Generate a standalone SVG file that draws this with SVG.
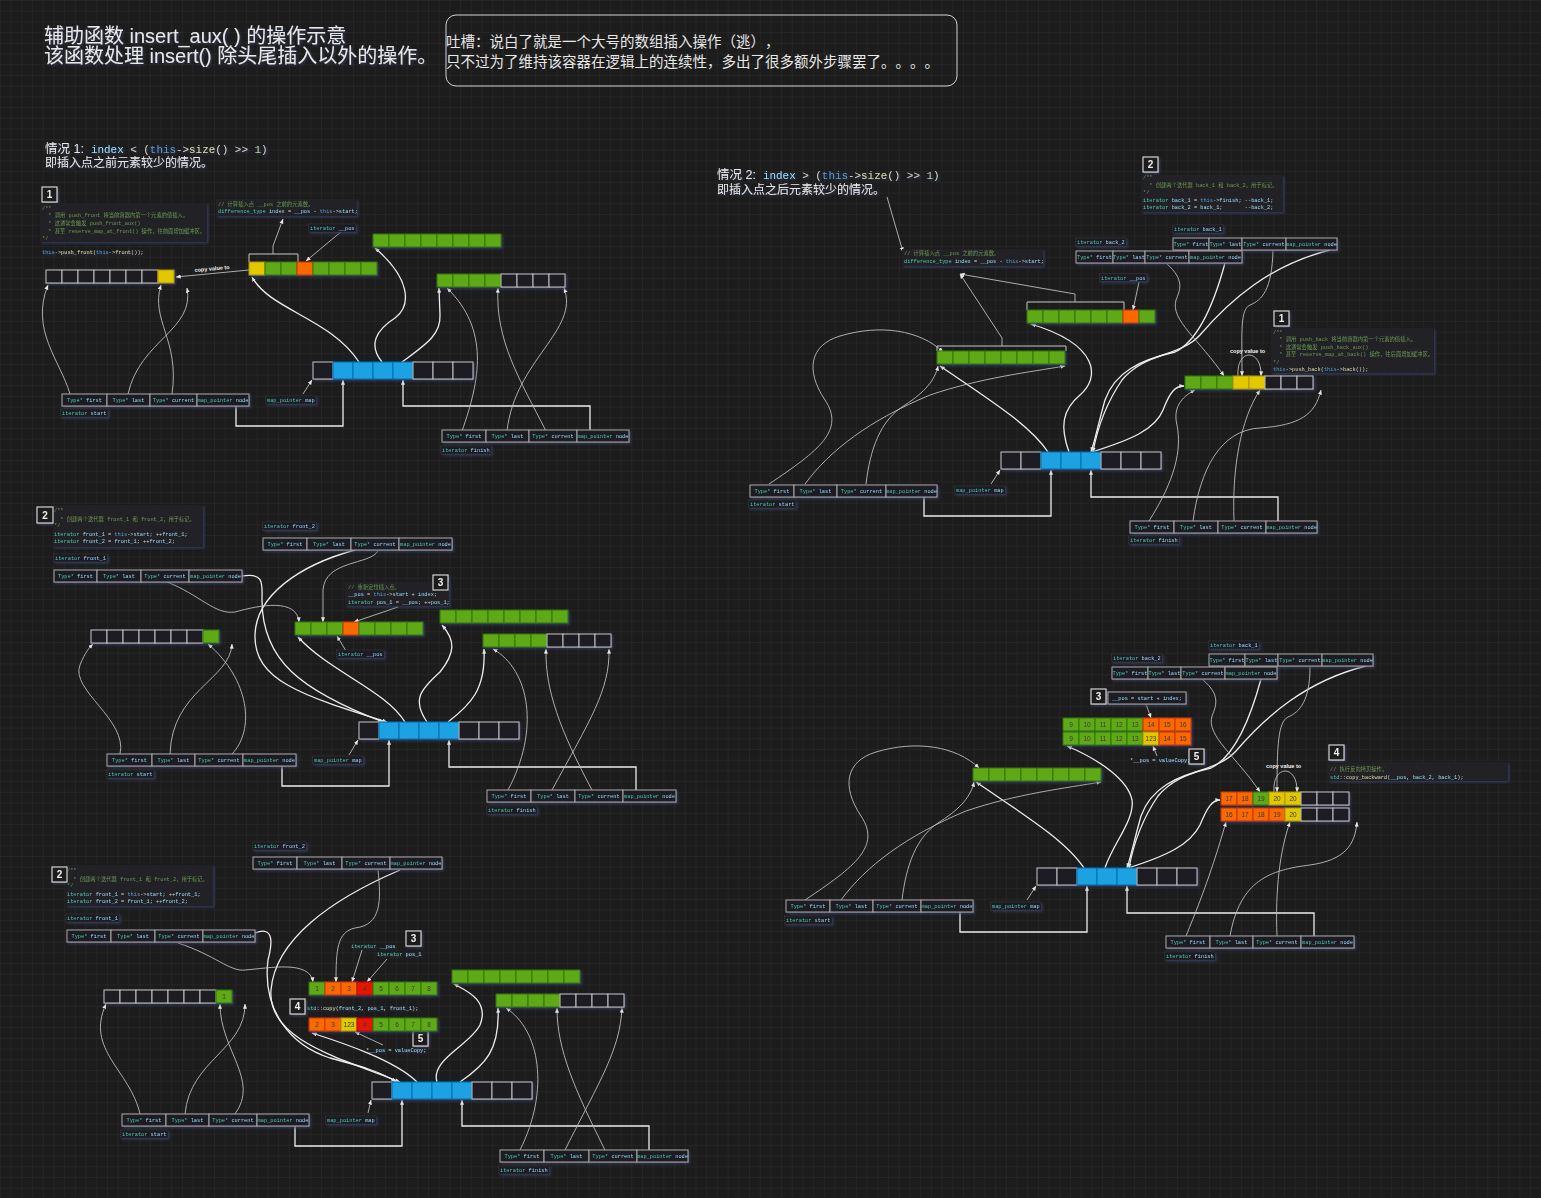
<svg xmlns="http://www.w3.org/2000/svg" width="1541" height="1198" viewBox="0 0 1541 1198">
<defs>
<pattern id="grid" width="10.7" height="10.7" patternUnits="userSpaceOnUse">
<path d="M10.7 0H0V10.7" fill="none" stroke="#2f2f2f" stroke-width="0.8"/>
</pattern>
<filter id="sh" x="-20%" y="-40%" width="140%" height="180%">
<feDropShadow dx="1.5" dy="1.5" stdDeviation="1.3" flood-color="#34416a" flood-opacity="0.75"/>
</filter>
<marker id="ah" viewBox="0 0 6 6" refX="5.6" refY="3" markerWidth="5" markerHeight="5" markerUnits="userSpaceOnUse" orient="auto">
<path d="M0,0.6L6,3L0,5.4z" fill="#e6e6e6"/>
</marker>
<style>
text{text-spacing-trim:space-all}
.g{fill:#60a917;stroke:#2d7600}
.o{fill:#fa6800;stroke:#c73500}
.y{fill:#e3c800;stroke:#a89400}
.b{fill:#1ba1e2;stroke:#006eaf}
.r{fill:#e51400;stroke:#b20000}
.d{fill:#1c1c24;stroke:#c4c4c4}
.f{fill:#1c1c22;stroke:#a9a9a9;stroke-width:1}
.num{font-family:"Liberation Sans",sans-serif;font-size:6.5px;fill:#3a3a3a;text-anchor:middle}
.ft{font-family:"Liberation Mono",monospace;font-size:5.3px;text-anchor:middle;fill:#4ec9b0}
.il{font-family:"Liberation Mono",monospace;font-size:5.3px;fill:#4ec9b0}
.lb{fill:#1c1c22;stroke:#474747;stroke-width:0.7;stroke-dasharray:1 1}
.v{fill:#9cdcfe}
.ty{fill:#4ec9b0}
.k{fill:#569cd6}
.fn{fill:#dcdcaa}
.w{fill:#d4d4d4}
.nm{fill:#b5cea8}
.cm{font-family:"Liberation Mono","Noto Sans CJK SC",monospace;font-size:5.3px;fill:#6a9955}
.cd{font-family:"Liberation Mono","Noto Sans CJK SC",monospace;font-size:5.3px;fill:#d4d4d4}
.cb{fill:#232325}
.bd rect{fill:#1e1e1e;stroke:#d0d0d0;stroke-width:1.2}
.bd text{font-family:"Liberation Sans",sans-serif;font-weight:bold;font-size:10px;fill:#f0f0f0;text-anchor:middle}
.ln{fill:none;stroke:#bcbcbc;stroke-width:0.9;marker-end:url(#ah)}
.lw{fill:none;stroke:#ededed;stroke-width:1.3;marker-end:url(#ah)}
.bk{fill:none;stroke:#c8c8c8;stroke-width:1}
.cv{font-family:"Liberation Sans",sans-serif;font-weight:bold;font-size:5.5px;fill:#f2f2f2}
.ttl{font-family:"Liberation Sans","Noto Sans CJK SC",sans-serif;fill:#e8e8e8}
.mono{font-family:"Liberation Mono",monospace}
</style>
</defs>

<rect width="1541" height="1198" fill="#1c1c1c"/>
<rect width="1541" height="1198" fill="url(#grid)"/>

<!-- header -->
<g id="header" filter="url(#sh)">
<text class="ttl" x="44" y="43" font-size="20">辅助函数 insert_aux( ) 的操作示意</text>
<text class="ttl" x="44" y="63" font-size="20">该函数处理 insert() 除头尾插入以外的操作。</text>
</g>
<g id="note">
<rect x="446" y="15" width="511" height="71" rx="10" fill="none" stroke="#d4d4d4" stroke-width="1"/>
<text class="ttl" x="446" y="47" font-size="14.5">吐槽：说白了就是一个大号的数组插入操作（逃），</text>
<text class="ttl" x="446" y="67" font-size="14.5">只不过为了维持该容器在逻辑上的连续性，多出了很多额外步骤罢了。。。。</text>
</g>

<!-- ================= case 1 titles ================= -->
<g id="c1-title" filter="url(#sh)">
<text class="ttl" x="45" y="152.5" font-size="12.5">情况 1: <tspan class="mono v" x="91" font-size="10.9">index</tspan><tspan class="mono w" font-size="10.9"> &lt; (</tspan><tspan class="mono k" font-size="10.9">this</tspan><tspan class="mono w" font-size="10.9">-&gt;</tspan><tspan class="mono fn" font-size="10.9">size</tspan><tspan class="mono w" font-size="10.9">() &gt;&gt; </tspan><tspan class="mono nm" font-size="10.9">1</tspan><tspan class="mono w" font-size="10.9">)</tspan></text>
<text class="ttl" x="45" y="167" font-size="12">即插入点之前元素较少的情况。</text>
</g>

<!-- ================= case 2 titles ================= -->
<g id="c2-title" filter="url(#sh)">
<text class="ttl" x="717" y="179" font-size="12.5">情况 2: <tspan class="mono v" x="763" font-size="10.9">index</tspan><tspan class="mono w" font-size="10.9"> &gt; (</tspan><tspan class="mono k" font-size="10.9">this</tspan><tspan class="mono w" font-size="10.9">-&gt;</tspan><tspan class="mono fn" font-size="10.9">size</tspan><tspan class="mono w" font-size="10.9">() &gt;&gt; </tspan><tspan class="mono nm" font-size="10.9">1</tspan><tspan class="mono w" font-size="10.9">)</tspan></text>
<text class="ttl" x="717" y="193.5" font-size="12">即插入点之后元素较少的情况。</text>
</g>

<!-- ================= connectors ================= -->
<g id="connectors">
<!-- case 1 top -->
<path class="lw" d="M236,406 V426 H343 V380"/>
<path class="lw" d="M590,430 V406 H403 V380"/>
<path class="ln" d="M303,394 L312,380"/>
<path class="lw" d="M359,362 C330,318 270,310 252,277"/>
<path class="lw" d="M382,362 C368,345 376,330 395,318 C412,305 410,278 375,248"/>
<path class="lw" d="M402,362 C425,345 441,335 440,315 L439,288"/>
<path class="ln" d="M70,394 C60,360 30,330 48,285"/>
<path class="ln" d="M128,394 C140,340 195,330 187,288"/>
<path class="ln" d="M172,394 C180,340 150,320 161,285"/>
<path class="ln" d="M462,431 C480,380 490,330 447,288"/>
<path class="ln" d="M507,431 C515,360 580,330 564,288"/>
<path class="ln" d="M546,431 C520,380 495,340 498,288"/>
<path class="ln" d="M249,270 L176,277"/>
<path class="ln" d="M342,231 L306,261"/>
<path class="bk" d="M249,262 V254 H298 V262"/>
<path class="ln" d="M273,254 V246 L283,219"/>

<!-- case 1 middle -->
<path class="lw" d="M282,766 V786 H389 V740"/>
<path class="lw" d="M636,790 V767 H449 V740"/>
<path class="ln" d="M349,755 L358,740"/>
<path class="lw" d="M405,722 C385,690 330,672 298,637"/>
<path class="lw" d="M427,722 C412,700 420,690 440,672 C456,652 455,640 442,625"/>
<path class="lw" d="M448,722 C470,705 486,690 484,649"/>
<path class="lw" d="M242,576 C265,572 262,585 262,600 C262,660 300,690 383,722"/>
<path class="lw" d="M355,550 C300,565 256,595 255,635 C254,680 300,695 387,722"/>
<path class="ln" d="M167,582 C200,595 215,615 235,612 C260,605 297,598 299,622"/>
<path class="ln" d="M378,551 C370,565 325,560 323,590 L323,622"/>
<path class="ln" d="M398,607 L354,622"/>
<path class="ln" d="M346,651 L337,636"/>
<path class="ln" d="M120,754 C128,720 70,690 80,665 C85,652 90,647 93,644"/>
<path class="ln" d="M170,754 C172,690 230,680 232,644"/>
<path class="ln" d="M232,754 C255,730 250,680 208,644"/>
<path class="ln" d="M508,790 C540,730 530,670 493,649"/>
<path class="ln" d="M552,790 C590,720 610,690 609,649"/>
<path class="ln" d="M592,790 C560,730 545,690 546,649"/>

<!-- case 1 bottom -->
<path class="lw" d="M295,1126 V1146 H402 V1100"/>
<path class="lw" d="M649,1150 V1126 H462 V1100"/>
<path class="ln" d="M368,1113 L371,1100"/>
<path class="lw" d="M417,1082 C395,1060 340,1042 312,1033"/>
<path class="lw" d="M437,1082 C430,1060 470,1045 480,1025 C490,1000 465,990 454,984"/>
<path class="lw" d="M460,1082 C485,1065 500,1050 498,1008"/>
<path class="lw" d="M255,933 C275,925 272,945 268,960 C262,1010 290,1045 330,1058 C360,1066 382,1072 396,1082"/>
<path class="lw" d="M400,870 C330,900 275,940 271,990 C267,1040 340,1058 400,1082"/>
<path class="ln" d="M178,943 C215,955 230,972 245,970 C270,968 310,960 313,982"/>
<path class="ln" d="M378,870 C381,900 382,925 355,928 C337,932 336,950 336,982"/>
<path class="ln" d="M362,950 L352,982"/>
<path class="ln" d="M387,959 L367,982"/>
<path class="ln" d="M383,1045 L355,1032"/>
<path class="ln" d="M140,1114 C130,1070 85,1050 106,1004"/>
<path class="ln" d="M185,1114 C190,1060 245,1050 245,1004"/>
<path class="ln" d="M235,1114 C260,1080 220,1050 220,1004"/>
<path class="ln" d="M520,1150 C550,1090 540,1030 506,1008"/>
<path class="ln" d="M565,1150 C600,1080 620,1050 622,1008"/>
<path class="ln" d="M605,1150 C575,1090 557,1050 557,1008"/>

<!-- case 2 top -->
<path class="lw" d="M924,496 V516 H1051 V470"/>
<path class="lw" d="M1278,521 V497 H1091 V470"/>
<path class="ln" d="M991,484 L1000,470"/>
<path class="lw" d="M1048,452 C1030,425 990,400 940,366"/>
<path class="lw" d="M1069,452 C1060,427 1062,410 1080,395 C1100,378 1100,345 1031,324"/>
<path class="lw" d="M1092,452 C1130,440 1155,430 1163,410 C1170,392 1175,386 1184,386"/>
<path class="lw" d="M1330,250 C1270,265 1230,300 1200,335 C1180,357 1145,352 1122,380 C1105,405 1097,430 1093,452"/>
<path class="lw" d="M1225,263 C1215,300 1200,340 1175,352 C1140,360 1115,372 1105,400 C1098,425 1095,440 1091,452"/>
<path class="ln" d="M1273,250 C1272,290 1262,300 1250,305 C1240,310 1242,330 1242,376"/>
<path class="ln" d="M1167,264 C1185,280 1180,290 1176,300 C1170,320 1200,340 1224,376"/>
<path class="ln" d="M1238,376 C1236,348 1262,348 1261,376"/>
<path class="ln" d="M769,484 C820,450 845,430 825,400 C805,370 810,345 840,336 C880,324 920,330 943,352"/>
<path class="ln" d="M805,484 C830,450 870,420 930,395 C980,378 1030,372 1065,366"/>
<path class="ln" d="M866,484 C870,450 880,420 905,405 C925,392 935,380 938,366"/>
<path class="ln" d="M1149,521 C1175,480 1182,450 1177,425 C1172,405 1185,395 1195,390"/>
<path class="ln" d="M1193,521 C1200,470 1220,430 1260,428 C1300,425 1315,415 1321,390"/>
<path class="ln" d="M1234,521 C1232,470 1240,420 1260,390"/>
<path class="ln" d="M887,197 L903,252"/>
<path class="ln" d="M1139,282 L1133,310"/>
<path class="bk" d="M1027,310 V302 H1124 V310"/>
<path class="bk" d="M937,351 V346 H1066 V351"/>
<path class="ln" d="M1075,302 V294 L960,274"/>
<path class="ln" d="M1002,346 V338 L960,274"/>

<!-- case 2 bottom -->
<path class="lw" d="M960,912 V932 H1087 V886"/>
<path class="lw" d="M1314,936 V913 H1127 V886"/>
<path class="ln" d="M1027,900 L1036,886"/>
<path class="lw" d="M1084,868 C1066,841 1026,816 976,782"/>
<path class="lw" d="M1105,868 C1112,845 1135,820 1132,800 C1128,780 1100,760 1067,746"/>
<path class="lw" d="M1128,868 C1166,856 1190,845 1200,825 C1207,808 1212,800 1220,800"/>
<path class="lw" d="M1366,666 C1306,681 1266,716 1236,751 C1216,773 1181,768 1158,796 C1141,821 1133,846 1129,868"/>
<path class="lw" d="M1261,679 C1251,716 1236,756 1211,768 C1176,776 1151,788 1141,816 C1134,841 1131,856 1127,868"/>
<path class="ln" d="M1203,680 C1221,695 1216,706 1212,716 C1206,736 1236,756 1260,792"/>
<path class="ln" d="M1310,667 C1310,700 1300,712 1288,717 C1278,722 1277,746 1277,792"/>
<path class="ln" d="M1274,792 C1272,764 1298,764 1297,792"/>
<path class="ln" d="M805,900 C856,866 881,846 861,816 C841,786 846,761 876,752 C916,740 956,746 979,768"/>
<path class="ln" d="M841,900 C866,866 906,836 966,811 C1016,794 1066,788 1101,782"/>
<path class="ln" d="M902,900 C906,866 916,836 941,821 C961,808 971,796 974,782"/>
<path class="ln" d="M1186,936 C1205,890 1215,860 1226,822"/>
<path class="ln" d="M1230,936 C1240,880 1270,870 1310,865 C1345,860 1355,845 1357,822"/>
<path class="ln" d="M1277,936 C1275,890 1280,850 1290,822"/>
<path class="ln" d="M1146,704 L1151,718"/>
<path class="ln" d="M1157,756 L1153,746"/>
</g>

<!-- ================= case 1 top nodes ================= -->
<g id="c1t-code1" filter="url(#sh)">
<g class="bd"><rect x="42" y="187" width="15" height="15"/><text x="49.5" y="198.2">1</text></g>
<rect class="cb" x="40" y="203" width="167" height="39"/>
<text class="cm" x="42" y="209.5">/**</text>
<text class="cm" x="42" y="216.5" xml:space="preserve">  * 调用 push_front 将当前容器内第一个元素的值插入。</text>
<text class="cm" x="42" y="224.5" xml:space="preserve">  * 这通常会触发 push_front_aux()</text>
<text class="cm" x="42" y="232.5" xml:space="preserve">  * 甚至 reserve_map_at_front() 操作，往前面增加缓冲区。</text>
<text class="cm" x="42" y="239.5">*/</text>
<text class="cd" x="42" y="253.5" font-size="6.6"><tspan class="k">this</tspan>-&gt;<tspan class="fn">push_front</tspan>(<tspan class="k">this</tspan>-&gt;<tspan class="fn">front</tspan>());</text>
</g>
<g id="c1t-index" filter="url(#sh)">
<rect class="cb" x="216" y="199" width="141" height="17"/>
<text class="cm" x="218" y="206">// 计算插入点 __pos 之前的元素数。</text>
<text class="cd" x="218" y="213"><tspan class="ty">difference_type</tspan> <tspan class="v">index</tspan> = <tspan class="v">__pos</tspan> - <tspan class="k">this</tspan>-&gt;<tspan class="v">start</tspan>;</text>
</g>
<g id="c1t-pos" filter="url(#sh)">
<rect class="lb" x="308.5" y="224" width="47.5" height="8"/>
<text class="il" x="310" y="230">iterator <tspan class="v">__pos</tspan></text>
</g>
<text class="cv" x="212" y="270.5" text-anchor="middle" transform="rotate(-5 212 268)">copy value to</text>

<g id="c1t-buf-front" filter="url(#sh)">
<rect class="d" x="46" y="270" width="16" height="13"/><rect class="d" x="62" y="270" width="16" height="13"/><rect class="d" x="78" y="270" width="16" height="13"/><rect class="d" x="94" y="270" width="16" height="13"/><rect class="d" x="110" y="270" width="16" height="13"/><rect class="d" x="126" y="270" width="16" height="13"/><rect class="d" x="142" y="270" width="16" height="13"/><rect class="y" x="158" y="270" width="16" height="13"/>
</g>
<g id="c1t-buf-pos" filter="url(#sh)">
<rect class="y" x="249" y="262" width="16" height="13"/><rect class="g" x="265" y="262" width="16" height="13"/><rect class="g" x="281" y="262" width="16" height="13"/><rect class="o" x="297" y="262" width="16" height="13"/><rect class="g" x="313" y="262" width="16" height="13"/><rect class="g" x="329" y="262" width="16" height="13"/><rect class="g" x="345" y="262" width="16" height="13"/><rect class="g" x="361" y="262" width="16" height="13"/>
</g>
<g id="c1t-buf-mid" filter="url(#sh)">
<rect class="g" x="373" y="234" width="16" height="13"/><rect class="g" x="389" y="234" width="16" height="13"/><rect class="g" x="405" y="234" width="16" height="13"/><rect class="g" x="421" y="234" width="16" height="13"/><rect class="g" x="437" y="234" width="16" height="13"/><rect class="g" x="453" y="234" width="16" height="13"/><rect class="g" x="469" y="234" width="16" height="13"/><rect class="g" x="485" y="234" width="16" height="13"/>
</g>
<g id="c1t-buf-back" filter="url(#sh)">
<rect class="g" x="437" y="274" width="16" height="13"/><rect class="g" x="453" y="274" width="16" height="13"/><rect class="g" x="469" y="274" width="16" height="13"/><rect class="g" x="485" y="274" width="16" height="13"/><rect class="d" x="501" y="274" width="16" height="13"/><rect class="d" x="517" y="274" width="16" height="13"/><rect class="d" x="533" y="274" width="16" height="13"/><rect class="d" x="549" y="274" width="16" height="13"/>
</g>
<g id="c1t-map" filter="url(#sh)">
<rect class="d" x="313" y="362" width="20" height="17"/><rect class="b" x="333" y="362" width="20" height="17"/><rect class="b" x="353" y="362" width="20" height="17"/><rect class="b" x="373" y="362" width="20" height="17"/><rect class="b" x="393" y="362" width="20" height="17"/><rect class="d" x="413" y="362" width="20" height="17"/><rect class="d" x="433" y="362" width="20" height="17"/><rect class="d" x="453" y="362" width="20" height="17"/>
</g>
<g id="c1t-start" filter="url(#sh)">
<rect class="f" x="62" y="394" width="45" height="12"/><rect class="f" x="107" y="394" width="43" height="12"/><rect class="f" x="150" y="394" width="47" height="12"/><rect class="f" x="197" y="394" width="52" height="12"/>
<text class="ft" x="84.5" y="402">Type* <tspan class="v">first</tspan></text><text class="ft" x="128.5" y="402">Type* <tspan class="v">last</tspan></text><text class="ft" x="173.5" y="402">Type* <tspan class="v">current</tspan></text><text class="ft" x="223" y="402">map_pointer <tspan class="v">node</tspan></text>
<rect class="lb" x="60.5" y="409" width="47.5" height="8"/><text class="il" x="62" y="415">iterator <tspan class="v">start</tspan></text>
</g>
<g id="c1t-mapptr" filter="url(#sh)">
<rect class="lb" x="265.5" y="396" width="50.7" height="8"/><text class="il" x="267" y="402">map_pointer <tspan class="v">map</tspan></text>
</g>
<g id="c1t-finish" filter="url(#sh)">
<rect class="f" x="442" y="430" width="44" height="12"/><rect class="f" x="486" y="430" width="43" height="12"/><rect class="f" x="529" y="430" width="48" height="12"/><rect class="f" x="577" y="430" width="52" height="12"/>
<text class="ft" x="464" y="438">Type* <tspan class="v">first</tspan></text><text class="ft" x="507.5" y="438">Type* <tspan class="v">last</tspan></text><text class="ft" x="553" y="438">Type* <tspan class="v">current</tspan></text><text class="ft" x="603" y="438">map_pointer <tspan class="v">node</tspan></text>
<rect class="lb" x="440.5" y="446" width="50.7" height="8"/><text class="il" x="442" y="452">iterator <tspan class="v">finish</tspan></text>
</g>

<!-- ================= case 1 middle nodes ================= -->
<g id="c1m-code2" filter="url(#sh)">
<rect class="cb" x="53" y="505" width="150" height="42"/>
<g class="bd"><rect x="37" y="507" width="16" height="16"/><text x="45" y="518.6">2</text></g>
<text class="cm" x="54" y="511.6">/**</text>
<text class="cm" x="54" y="520.6" xml:space="preserve">  * 创建两个迭代器 front_1 和 front_2，用于标记。</text>
<text class="cm" x="54" y="527.1">*/</text>
<text class="cd" x="54" y="535.6"><tspan class="ty">iterator</tspan> <tspan class="v">front_1</tspan> = <tspan class="k">this</tspan>-&gt;<tspan class="v">start</tspan>; ++<tspan class="v">front_1</tspan>;</text>
<text class="cd" x="54" y="542.6"><tspan class="ty">iterator</tspan> <tspan class="v">front_2</tspan> = <tspan class="v">front_1</tspan>; ++<tspan class="v">front_2</tspan>;</text>
</g>
<g id="c1m-front1" filter="url(#sh)">
<rect class="lb" x="53.5" y="554" width="53.9" height="8"/><text class="il" x="55" y="560">iterator <tspan class="v">front_1</tspan></text>
<rect class="f" x="54" y="570" width="43" height="12"/><rect class="f" x="97" y="570" width="44" height="12"/><rect class="f" x="141" y="570" width="48" height="12"/><rect class="f" x="189" y="570" width="53" height="12"/>
<text class="ft" x="75.5" y="578">Type* <tspan class="v">first</tspan></text><text class="ft" x="119" y="578">Type* <tspan class="v">last</tspan></text><text class="ft" x="165" y="578">Type* <tspan class="v">current</tspan></text><text class="ft" x="215.5" y="578">map_pointer <tspan class="v">node</tspan></text>
</g>
<g id="c1m-front2" filter="url(#sh)">
<rect class="lb" x="262.5" y="522" width="53.9" height="8"/><text class="il" x="264" y="528">iterator <tspan class="v">front_2</tspan></text>
<rect class="f" x="263" y="538" width="44" height="12"/><rect class="f" x="307" y="538" width="44" height="12"/><rect class="f" x="351" y="538" width="48" height="12"/><rect class="f" x="399" y="538" width="53" height="12"/>
<text class="ft" x="285" y="546">Type* <tspan class="v">first</tspan></text><text class="ft" x="329" y="546">Type* <tspan class="v">last</tspan></text><text class="ft" x="375" y="546">Type* <tspan class="v">current</tspan></text><text class="ft" x="425.5" y="546">map_pointer <tspan class="v">node</tspan></text>
</g>
<g id="c1m-code3" filter="url(#sh)">
<rect class="cb" x="345" y="582" width="104" height="24"/>
<g class="bd"><rect x="433" y="575" width="15" height="15"/><text x="440.5" y="586.2">3</text></g>
<text class="cm" x="348" y="588.6">// 重新定位插入点。</text>
<text class="cd" x="348" y="595.6"><tspan class="v">__pos</tspan> = <tspan class="k">this</tspan>-&gt;<tspan class="v">start</tspan> + <tspan class="v">index</tspan>;</text>
<text class="cd" x="348" y="603.6"><tspan class="ty">iterator</tspan> <tspan class="v">pos_1</tspan> = <tspan class="v">__pos</tspan>; ++<tspan class="v">pos_1</tspan>;</text>
</g>
<g id="c1m-pos" filter="url(#sh)">
<rect class="lb" x="336.5" y="650" width="47.5" height="8"/><text class="il" x="338" y="656">iterator <tspan class="v">__pos</tspan></text>
</g>
<g id="c1m-buf-front" filter="url(#sh)">
<rect class="d" x="91" y="630" width="16" height="13"/><rect class="d" x="107" y="630" width="16" height="13"/><rect class="d" x="123" y="630" width="16" height="13"/><rect class="d" x="139" y="630" width="16" height="13"/><rect class="d" x="155" y="630" width="16" height="13"/><rect class="d" x="171" y="630" width="16" height="13"/><rect class="d" x="187" y="630" width="16" height="13"/><rect class="g" x="203" y="630" width="16" height="13"/>
</g>
<g id="c1m-buf-pos" filter="url(#sh)">
<rect class="g" x="295" y="622" width="16" height="13"/><rect class="g" x="311" y="622" width="16" height="13"/><rect class="g" x="327" y="622" width="16" height="13"/><rect class="o" x="343" y="622" width="16" height="13"/><rect class="g" x="359" y="622" width="16" height="13"/><rect class="g" x="375" y="622" width="16" height="13"/><rect class="g" x="391" y="622" width="16" height="13"/><rect class="g" x="407" y="622" width="16" height="13"/>
</g>
<g id="c1m-buf-mid" filter="url(#sh)">
<rect class="g" x="440" y="610" width="16" height="13"/><rect class="g" x="456" y="610" width="16" height="13"/><rect class="g" x="472" y="610" width="16" height="13"/><rect class="g" x="488" y="610" width="16" height="13"/><rect class="g" x="504" y="610" width="16" height="13"/><rect class="g" x="520" y="610" width="16" height="13"/><rect class="g" x="536" y="610" width="16" height="13"/><rect class="g" x="552" y="610" width="16" height="13"/>
</g>
<g id="c1m-buf-back" filter="url(#sh)">
<rect class="g" x="483" y="634" width="16" height="13"/><rect class="g" x="499" y="634" width="16" height="13"/><rect class="g" x="515" y="634" width="16" height="13"/><rect class="g" x="531" y="634" width="16" height="13"/><rect class="d" x="547" y="634" width="16" height="13"/><rect class="d" x="563" y="634" width="16" height="13"/><rect class="d" x="579" y="634" width="16" height="13"/><rect class="d" x="595" y="634" width="16" height="13"/>
</g>
<g id="c1m-map" filter="url(#sh)">
<rect class="d" x="359" y="722" width="20" height="17"/><rect class="b" x="379" y="722" width="20" height="17"/><rect class="b" x="399" y="722" width="20" height="17"/><rect class="b" x="419" y="722" width="20" height="17"/><rect class="b" x="439" y="722" width="20" height="17"/><rect class="d" x="459" y="722" width="20" height="17"/><rect class="d" x="479" y="722" width="20" height="17"/><rect class="d" x="499" y="722" width="20" height="17"/>
</g>
<g id="c1m-start" filter="url(#sh)">
<rect class="f" x="107" y="754" width="45" height="12"/><rect class="f" x="152" y="754" width="43" height="12"/><rect class="f" x="195" y="754" width="48" height="12"/><rect class="f" x="243" y="754" width="53" height="12"/>
<text class="ft" x="129.5" y="762">Type* <tspan class="v">first</tspan></text><text class="ft" x="173.5" y="762">Type* <tspan class="v">last</tspan></text><text class="ft" x="219" y="762">Type* <tspan class="v">current</tspan></text><text class="ft" x="269.5" y="762">map_pointer <tspan class="v">node</tspan></text>
<rect class="lb" x="106.5" y="770" width="47.5" height="8"/><text class="il" x="108" y="776">iterator <tspan class="v">start</tspan></text>
</g>
<g id="c1m-mapptr" filter="url(#sh)">
<rect class="lb" x="312.5" y="756" width="50.7" height="8"/><text class="il" x="314" y="762">map_pointer <tspan class="v">map</tspan></text>
</g>
<g id="c1m-finish" filter="url(#sh)">
<rect class="f" x="487" y="790" width="44" height="12"/><rect class="f" x="531" y="790" width="44" height="12"/><rect class="f" x="575" y="790" width="48" height="12"/><rect class="f" x="623" y="790" width="53" height="12"/>
<text class="ft" x="509" y="798">Type* <tspan class="v">first</tspan></text><text class="ft" x="553" y="798">Type* <tspan class="v">last</tspan></text><text class="ft" x="599" y="798">Type* <tspan class="v">current</tspan></text><text class="ft" x="649.5" y="798">map_pointer <tspan class="v">node</tspan></text>
<rect class="lb" x="486.5" y="806" width="50.7" height="8"/><text class="il" x="488" y="812">iterator <tspan class="v">finish</tspan></text>
</g>

<!-- ================= case 1 bottom nodes ================= -->
<g id="c1b-code2" filter="url(#sh)">
<rect class="cb" x="66" y="865" width="147" height="41"/>
<g class="bd"><rect x="52" y="867" width="15" height="15"/><text x="59.5" y="878.2">2</text></g>
<text class="cm" x="67" y="871.6">/**</text>
<text class="cm" x="67" y="880.6" xml:space="preserve">  * 创建两个迭代器 front_1 和 front_2，用于标记。</text>
<text class="cm" x="67" y="886.6">*/</text>
<text class="cd" x="67" y="895.6"><tspan class="ty">iterator</tspan> <tspan class="v">front_1</tspan> = <tspan class="k">this</tspan>-&gt;<tspan class="v">start</tspan>; ++<tspan class="v">front_1</tspan>;</text>
<text class="cd" x="67" y="902.6"><tspan class="ty">iterator</tspan> <tspan class="v">front_2</tspan> = <tspan class="v">front_1</tspan>; ++<tspan class="v">front_2</tspan>;</text>
</g>
<g id="c1b-front1" filter="url(#sh)">
<rect class="lb" x="65.5" y="914" width="53.9" height="8"/><text class="il" x="67" y="920">iterator <tspan class="v">front_1</tspan></text>
<rect class="f" x="67" y="930" width="44" height="12"/><rect class="f" x="111" y="930" width="44" height="12"/><rect class="f" x="155" y="930" width="48" height="12"/><rect class="f" x="203" y="930" width="52" height="12"/>
<text class="ft" x="89" y="938">Type* <tspan class="v">first</tspan></text><text class="ft" x="133" y="938">Type* <tspan class="v">last</tspan></text><text class="ft" x="179" y="938">Type* <tspan class="v">current</tspan></text><text class="ft" x="229" y="938">map_pointer <tspan class="v">node</tspan></text>
</g>
<g id="c1b-front2" filter="url(#sh)">
<rect class="lb" x="252.5" y="842" width="53.9" height="8"/><text class="il" x="254" y="848">iterator <tspan class="v">front_2</tspan></text>
<rect class="f" x="253" y="857" width="44" height="12"/><rect class="f" x="297" y="857" width="45" height="12"/><rect class="f" x="342" y="857" width="48" height="12"/><rect class="f" x="390" y="857" width="52" height="12"/>
<text class="ft" x="275" y="865">Type* <tspan class="v">first</tspan></text><text class="ft" x="319.5" y="865">Type* <tspan class="v">last</tspan></text><text class="ft" x="366" y="865">Type* <tspan class="v">current</tspan></text><text class="ft" x="416" y="865">map_pointer <tspan class="v">node</tspan></text>
</g>
<g id="c1b-step3" filter="url(#sh)">
<g class="bd"><rect x="406" y="931" width="15" height="15"/><text x="413.5" y="942.2">3</text></g>
<text class="il" x="351" y="947.6">iterator <tspan class="v">__pos</tspan></text>
<text class="il" x="377" y="955.6">iterator <tspan class="v">pos_1</tspan></text>
</g>
<g id="c1b-step4" filter="url(#sh)">
<g class="bd"><rect x="290" y="999" width="15" height="15"/><text x="297.5" y="1010.2">4</text></g>
<text class="cd" x="307" y="1009.6"><tspan class="ty">std</tspan>::<tspan class="fn">copy</tspan>(<tspan class="v">front_2</tspan>, <tspan class="v">pos_1</tspan>, <tspan class="v">front_1</tspan>);</text>
</g>
<g id="c1b-step5" filter="url(#sh)">
<g class="bd"><rect x="413" y="1031" width="15" height="15"/><text x="420.5" y="1042.2">5</text></g>
<text class="cd" x="366" y="1052">*<tspan class="v">__pos</tspan> = <tspan class="v">valueCopy</tspan>;</text>
</g>
<g id="c1b-buf-front" filter="url(#sh)">
<rect class="d" x="104" y="990" width="16" height="13"/><rect class="d" x="120" y="990" width="16" height="13"/><rect class="d" x="136" y="990" width="16" height="13"/><rect class="d" x="152" y="990" width="16" height="13"/><rect class="d" x="168" y="990" width="16" height="13"/><rect class="d" x="184" y="990" width="16" height="13"/><rect class="d" x="200" y="990" width="16" height="13"/><rect class="g" x="216" y="990" width="16" height="13"/>
<text class="num" x="224" y="999">1</text>
</g>
<g id="c1b-buf-before" filter="url(#sh)">
<rect class="g" x="309" y="982" width="16" height="13"/><rect class="o" x="325" y="982" width="16" height="13"/><rect class="o" x="341" y="982" width="16" height="13"/><rect class="r" x="357" y="982" width="16" height="13"/><rect class="g" x="373" y="982" width="16" height="13"/><rect class="g" x="389" y="982" width="16" height="13"/><rect class="g" x="405" y="982" width="16" height="13"/><rect class="g" x="421" y="982" width="16" height="13"/>
<text class="num" x="317" y="991">1</text><text class="num" x="333" y="991">2</text><text class="num" x="349" y="991">3</text><text class="num" x="365" y="991">4</text><text class="num" x="381" y="991">5</text><text class="num" x="397" y="991">6</text><text class="num" x="413" y="991">7</text><text class="num" x="429" y="991">8</text>
</g>
<g id="c1b-buf-after" filter="url(#sh)">
<rect class="o" x="309" y="1018" width="16" height="13"/><rect class="o" x="325" y="1018" width="16" height="13"/><rect class="y" x="341" y="1018" width="16" height="13"/><rect class="r" x="357" y="1018" width="16" height="13"/><rect class="g" x="373" y="1018" width="16" height="13"/><rect class="g" x="389" y="1018" width="16" height="13"/><rect class="g" x="405" y="1018" width="16" height="13"/><rect class="g" x="421" y="1018" width="16" height="13"/>
<text class="num" x="317" y="1027">2</text><text class="num" x="333" y="1027">3</text><text class="num" x="349" y="1027">123</text><text class="num" x="365" y="1027">4</text><text class="num" x="381" y="1027">5</text><text class="num" x="397" y="1027">6</text><text class="num" x="413" y="1027">7</text><text class="num" x="429" y="1027">8</text>
</g>
<g id="c1b-buf-mid" filter="url(#sh)">
<rect class="g" x="452" y="970" width="16" height="13"/><rect class="g" x="468" y="970" width="16" height="13"/><rect class="g" x="484" y="970" width="16" height="13"/><rect class="g" x="500" y="970" width="16" height="13"/><rect class="g" x="516" y="970" width="16" height="13"/><rect class="g" x="532" y="970" width="16" height="13"/><rect class="g" x="548" y="970" width="16" height="13"/><rect class="g" x="564" y="970" width="16" height="13"/>
</g>
<g id="c1b-buf-back" filter="url(#sh)">
<rect class="g" x="496" y="994" width="16" height="13"/><rect class="g" x="512" y="994" width="16" height="13"/><rect class="g" x="528" y="994" width="16" height="13"/><rect class="g" x="544" y="994" width="16" height="13"/><rect class="d" x="560" y="994" width="16" height="13"/><rect class="d" x="576" y="994" width="16" height="13"/><rect class="d" x="592" y="994" width="16" height="13"/><rect class="d" x="608" y="994" width="16" height="13"/>
</g>
<g id="c1b-map" filter="url(#sh)">
<rect class="d" x="372" y="1082" width="20" height="17"/><rect class="b" x="392" y="1082" width="20" height="17"/><rect class="b" x="412" y="1082" width="20" height="17"/><rect class="b" x="432" y="1082" width="20" height="17"/><rect class="b" x="452" y="1082" width="20" height="17"/><rect class="d" x="472" y="1082" width="20" height="17"/><rect class="d" x="492" y="1082" width="20" height="17"/><rect class="d" x="512" y="1082" width="20" height="17"/>
</g>
<g id="c1b-start" filter="url(#sh)">
<rect class="f" x="122" y="1114" width="44" height="12"/><rect class="f" x="166" y="1114" width="43" height="12"/><rect class="f" x="209" y="1114" width="48" height="12"/><rect class="f" x="257" y="1114" width="52" height="12"/>
<text class="ft" x="144" y="1122">Type* <tspan class="v">first</tspan></text><text class="ft" x="187.5" y="1122">Type* <tspan class="v">last</tspan></text><text class="ft" x="233" y="1122">Type* <tspan class="v">current</tspan></text><text class="ft" x="283" y="1122">map_pointer <tspan class="v">node</tspan></text>
<rect class="lb" x="120.5" y="1130" width="47.5" height="8"/><text class="il" x="122" y="1136">iterator <tspan class="v">start</tspan></text>
</g>
<g id="c1b-mapptr" filter="url(#sh)">
<rect class="lb" x="325.5" y="1116" width="50.7" height="8"/><text class="il" x="327" y="1122">map_pointer <tspan class="v">map</tspan></text>
</g>
<g id="c1b-finish" filter="url(#sh)">
<rect class="f" x="500" y="1150" width="44" height="12"/><rect class="f" x="544" y="1150" width="45" height="12"/><rect class="f" x="589" y="1150" width="48" height="12"/><rect class="f" x="637" y="1150" width="51" height="12"/>
<text class="ft" x="522" y="1158">Type* <tspan class="v">first</tspan></text><text class="ft" x="566.5" y="1158">Type* <tspan class="v">last</tspan></text><text class="ft" x="613" y="1158">Type* <tspan class="v">current</tspan></text><text class="ft" x="662.5" y="1158">map_pointer <tspan class="v">node</tspan></text>
<rect class="lb" x="498.5" y="1166" width="50.7" height="8"/><text class="il" x="500" y="1172">iterator <tspan class="v">finish</tspan></text>
</g>

<!-- ================= case 2 top nodes ================= -->
<g id="c2t-index" filter="url(#sh)">
<rect class="cb" x="902" y="249" width="141" height="17"/>
<text class="cm" x="904" y="255">// 计算插入点 __pos 之前的元素数。</text>
<text class="cd" x="904" y="262.6"><tspan class="ty">difference_type</tspan> <tspan class="v">index</tspan> = <tspan class="v">__pos</tspan> - <tspan class="k">this</tspan>-&gt;<tspan class="v">start</tspan>;</text>
</g>
<g id="c2t-code2" filter="url(#sh)">
<g class="bd"><rect x="1143" y="157" width="15" height="15"/><text x="1150.5" y="168.2">2</text></g>
<rect class="cb" x="1141" y="175" width="142" height="37"/>
<text class="cm" x="1143" y="178.6">/**</text>
<text class="cm" x="1143" y="186.6" xml:space="preserve">  * 创建两个迭代器 back_1 和 back_2，用于标记。</text>
<text class="cm" x="1143" y="193.6">*/</text>
<text class="cd" x="1143" y="201.6"><tspan class="ty">iterator</tspan> <tspan class="v">back_1</tspan> = <tspan class="k">this</tspan>-&gt;<tspan class="v">finish</tspan>; --<tspan class="v">back_1</tspan>;</text>
<text class="cd" x="1143" y="208.6"><tspan class="ty">iterator</tspan> <tspan class="v">back_2</tspan> = <tspan class="v">back_1</tspan>;<tspan x="1244.8">--</tspan><tspan class="v">back_2</tspan>;</text>
</g>
<g id="c2t-back1" filter="url(#sh)">
<rect class="lb" x="1172.5" y="225" width="50.7" height="8"/><text class="il" x="1174" y="231">iterator <tspan class="v">back_1</tspan></text>
<rect class="f" x="1173" y="238" width="36" height="12"/><rect class="f" x="1209" y="238" width="33" height="12"/><rect class="f" x="1242" y="238" width="44" height="12"/><rect class="f" x="1286" y="238" width="51" height="12"/>
<text class="ft" x="1191" y="246">Type* <tspan class="v">first</tspan></text><text class="ft" x="1225.5" y="246">Type* <tspan class="v">last</tspan></text><text class="ft" x="1264" y="246">Type* <tspan class="v">current</tspan></text><text class="ft" x="1311.5" y="246">map_pointer <tspan class="v">node</tspan></text>
</g>
<g id="c2t-back2" filter="url(#sh)">
<rect class="lb" x="1075.5" y="238" width="50.7" height="8"/><text class="il" x="1077" y="244">iterator <tspan class="v">back_2</tspan></text>
<rect class="f" x="1076" y="251" width="37" height="12"/><rect class="f" x="1113" y="251" width="32" height="12"/><rect class="f" x="1145" y="251" width="44" height="12"/><rect class="f" x="1189" y="251" width="53" height="12"/>
<text class="ft" x="1094.5" y="259">Type* <tspan class="v">first</tspan></text><text class="ft" x="1129" y="259">Type* <tspan class="v">last</tspan></text><text class="ft" x="1167" y="259">Type* <tspan class="v">current</tspan></text><text class="ft" x="1215.5" y="259">map_pointer <tspan class="v">node</tspan></text>
</g>
<g id="c2t-pos" filter="url(#sh)">
<rect class="lb" x="1099.5" y="273.5" width="47.5" height="8"/><text class="il" x="1101" y="279.5">iterator <tspan class="v">__pos</tspan></text>
</g>
<g id="c2t-code1" filter="url(#sh)">
<g class="bd"><rect x="1274" y="311" width="15" height="15"/><text x="1281.5" y="322.2">1</text></g>
<rect class="cb" x="1271" y="328" width="163" height="45"/>
<text class="cm" x="1273" y="333.6">/**</text>
<text class="cm" x="1273" y="340.6" xml:space="preserve">  * 调用 push_back 将当前容器内第一个元素的值插入。</text>
<text class="cm" x="1273" y="348.6" xml:space="preserve">  * 这通常会触发 push_back_aux()</text>
<text class="cm" x="1273" y="355.6" xml:space="preserve">  * 甚至 reserve_map_at_back() 操作，往后面增加缓冲区。</text>
<text class="cm" x="1273" y="363.6">*/</text>
<text class="cd" x="1273" y="370.6"><tspan class="k">this</tspan>-&gt;<tspan class="fn">push_back</tspan>(<tspan class="k">this</tspan>-&gt;<tspan class="fn">back</tspan>());</text>
</g>
<text class="cv" x="1230" y="352.5">copy value to</text>

<g id="c2t-buf-pos" filter="url(#sh)">
<rect class="g" x="1027" y="310" width="16" height="13"/><rect class="g" x="1043" y="310" width="16" height="13"/><rect class="g" x="1059" y="310" width="16" height="13"/><rect class="g" x="1075" y="310" width="16" height="13"/><rect class="g" x="1091" y="310" width="16" height="13"/><rect class="g" x="1107" y="310" width="16" height="13"/><rect class="o" x="1123" y="310" width="16" height="13"/><rect class="g" x="1139" y="310" width="16" height="13"/>
</g>
<g id="c2t-buf-front" filter="url(#sh)">
<rect class="g" x="937" y="351" width="16" height="13"/><rect class="g" x="953" y="351" width="16" height="13"/><rect class="g" x="969" y="351" width="16" height="13"/><rect class="g" x="985" y="351" width="16" height="13"/><rect class="g" x="1001" y="351" width="16" height="13"/><rect class="g" x="1017" y="351" width="16" height="13"/><rect class="g" x="1033" y="351" width="16" height="13"/><rect class="g" x="1049" y="351" width="16" height="13"/>
</g>
<g id="c2t-buf-back" filter="url(#sh)">
<rect class="g" x="1185" y="376" width="16" height="13"/><rect class="g" x="1201" y="376" width="16" height="13"/><rect class="g" x="1217" y="376" width="16" height="13"/><rect class="y" x="1233" y="376" width="16" height="13"/><rect class="y" x="1249" y="376" width="16" height="13"/><rect class="d" x="1265" y="376" width="16" height="13"/><rect class="d" x="1281" y="376" width="16" height="13"/><rect class="d" x="1297" y="376" width="16" height="13"/>
</g>
<g id="c2t-map" filter="url(#sh)">
<rect class="d" x="1001" y="452" width="20" height="17"/><rect class="d" x="1021" y="452" width="20" height="17"/><rect class="b" x="1041" y="452" width="20" height="17"/><rect class="b" x="1061" y="452" width="20" height="17"/><rect class="b" x="1081" y="452" width="20" height="17"/><rect class="d" x="1101" y="452" width="20" height="17"/><rect class="d" x="1121" y="452" width="20" height="17"/><rect class="d" x="1141" y="452" width="20" height="17"/>
</g>
<g id="c2t-start" filter="url(#sh)">
<rect class="f" x="750" y="485" width="44" height="12"/><rect class="f" x="794" y="485" width="43" height="12"/><rect class="f" x="837" y="485" width="49" height="12"/><rect class="f" x="886" y="485" width="51" height="12"/>
<text class="ft" x="772" y="493">Type* <tspan class="v">first</tspan></text><text class="ft" x="815.5" y="493">Type* <tspan class="v">last</tspan></text><text class="ft" x="861.5" y="493">Type* <tspan class="v">current</tspan></text><text class="ft" x="911.5" y="493">map_pointer <tspan class="v">node</tspan></text>
<rect class="lb" x="748.5" y="500" width="47.5" height="8"/><text class="il" x="750" y="506">iterator <tspan class="v">start</tspan></text>
</g>
<g id="c2t-mapptr" filter="url(#sh)">
<rect class="lb" x="954.5" y="486" width="50.7" height="8"/><text class="il" x="956" y="492">map_pointer <tspan class="v">map</tspan></text>
</g>
<g id="c2t-finish" filter="url(#sh)">
<rect class="f" x="1130" y="521" width="44" height="12"/><rect class="f" x="1174" y="521" width="44" height="12"/><rect class="f" x="1218" y="521" width="48" height="12"/><rect class="f" x="1266" y="521" width="51" height="12"/>
<text class="ft" x="1152" y="529">Type* <tspan class="v">first</tspan></text><text class="ft" x="1196" y="529">Type* <tspan class="v">last</tspan></text><text class="ft" x="1242" y="529">Type* <tspan class="v">current</tspan></text><text class="ft" x="1291.5" y="529">map_pointer <tspan class="v">node</tspan></text>
<rect class="lb" x="1128.5" y="536" width="50.7" height="8"/><text class="il" x="1130" y="542">iterator <tspan class="v">finish</tspan></text>
</g>

<!-- ================= case 2 bottom nodes ================= -->
<g id="c2b-back1" filter="url(#sh)">
<rect class="lb" x="1208.5" y="641" width="50.7" height="8"/><text class="il" x="1210" y="647">iterator <tspan class="v">back_1</tspan></text>
<rect class="f" x="1209" y="654" width="36" height="12"/><rect class="f" x="1245" y="654" width="33" height="12"/><rect class="f" x="1278" y="654" width="44" height="12"/><rect class="f" x="1322" y="654" width="51" height="12"/>
<text class="ft" x="1227" y="662">Type* <tspan class="v">first</tspan></text><text class="ft" x="1261.5" y="662">Type* <tspan class="v">last</tspan></text><text class="ft" x="1300" y="662">Type* <tspan class="v">current</tspan></text><text class="ft" x="1347.5" y="662">map_pointer <tspan class="v">node</tspan></text>
</g>
<g id="c2b-back2" filter="url(#sh)">
<rect class="lb" x="1111.5" y="654" width="50.7" height="8"/><text class="il" x="1113" y="660">iterator <tspan class="v">back_2</tspan></text>
<rect class="f" x="1112" y="667" width="36" height="12"/><rect class="f" x="1148" y="667" width="33" height="12"/><rect class="f" x="1181" y="667" width="44" height="12"/><rect class="f" x="1225" y="667" width="52" height="12"/>
<text class="ft" x="1130" y="675">Type* <tspan class="v">first</tspan></text><text class="ft" x="1164.5" y="675">Type* <tspan class="v">last</tspan></text><text class="ft" x="1203" y="675">Type* <tspan class="v">current</tspan></text><text class="ft" x="1251" y="675">map_pointer <tspan class="v">node</tspan></text>
</g>
<g id="c2b-step3" filter="url(#sh)">
<g class="bd"><rect x="1091" y="689" width="15" height="15"/><text x="1098.5" y="700.2">3</text></g>
<rect class="f" x="1108" y="692" width="78" height="12"/>
<text class="cd" x="1112" y="700"><tspan class="v">__pos</tspan> = <tspan class="v">start</tspan> + <tspan class="v">index</tspan>;</text>
</g>
<g id="c2b-step5" filter="url(#sh)">
<g class="bd"><rect x="1189" y="749" width="15" height="15"/><text x="1196.5" y="760.2">5</text></g>
<text class="cd" x="1130" y="761.6">*<tspan class="v">__pos</tspan> = <tspan class="v">valueCopy</tspan>;</text>
</g>
<g id="c2b-step4" filter="url(#sh)">
<g class="bd"><rect x="1329" y="745" width="15" height="15"/><text x="1336.5" y="756.2">4</text></g>
<rect class="cb" x="1328" y="762" width="180" height="19"/>
<text class="cm" x="1330" y="770.6" font-size="7">// 执行反向拷贝操作。</text>
<text class="cd" x="1330" y="779.2" font-size="7"><tspan class="ty">std</tspan>::<tspan class="fn">copy_backward</tspan>(<tspan class="v">__pos</tspan>, <tspan class="v">back_2</tspan>, <tspan class="v">back_1</tspan>);</text>
</g>
<text class="cv" x="1266" y="768">copy value to</text>

<g id="c2b-buf-before" filter="url(#sh)">
<rect class="g" x="1063" y="718" width="16" height="13"/><rect class="g" x="1079" y="718" width="16" height="13"/><rect class="g" x="1095" y="718" width="16" height="13"/><rect class="g" x="1111" y="718" width="16" height="13"/><rect class="g" x="1127" y="718" width="16" height="13"/><rect class="o" x="1143" y="718" width="16" height="13"/><rect class="o" x="1159" y="718" width="16" height="13"/><rect class="o" x="1175" y="718" width="16" height="13"/>
<text class="num" x="1071" y="727">9</text><text class="num" x="1087" y="727">10</text><text class="num" x="1103" y="727">11</text><text class="num" x="1119" y="727">12</text><text class="num" x="1135" y="727">13</text><text class="num" x="1151" y="727">14</text><text class="num" x="1167" y="727">15</text><text class="num" x="1183" y="727">16</text>
</g>
<g id="c2b-buf-after" filter="url(#sh)">
<rect class="g" x="1063" y="732" width="16" height="13"/><rect class="g" x="1079" y="732" width="16" height="13"/><rect class="g" x="1095" y="732" width="16" height="13"/><rect class="g" x="1111" y="732" width="16" height="13"/><rect class="g" x="1127" y="732" width="16" height="13"/><rect class="y" x="1143" y="732" width="16" height="13"/><rect class="o" x="1159" y="732" width="16" height="13"/><rect class="o" x="1175" y="732" width="16" height="13"/>
<text class="num" x="1071" y="741">9</text><text class="num" x="1087" y="741">10</text><text class="num" x="1103" y="741">11</text><text class="num" x="1119" y="741">12</text><text class="num" x="1135" y="741">13</text><text class="num" x="1151" y="741">123</text><text class="num" x="1167" y="741">14</text><text class="num" x="1183" y="741">15</text>
</g>
<g id="c2b-buf-back-before" filter="url(#sh)">
<rect class="o" x="1221" y="792" width="16" height="13"/><rect class="o" x="1237" y="792" width="16" height="13"/><rect class="g" x="1253" y="792" width="16" height="13"/><rect class="y" x="1269" y="792" width="16" height="13"/><rect class="y" x="1285" y="792" width="16" height="13"/><rect class="d" x="1301" y="792" width="16" height="13"/><rect class="d" x="1317" y="792" width="16" height="13"/><rect class="d" x="1333" y="792" width="16" height="13"/>
<text class="num" x="1229" y="801">17</text><text class="num" x="1245" y="801">18</text><text class="num" x="1261" y="801">19</text><text class="num" x="1277" y="801">20</text><text class="num" x="1293" y="801">20</text>
</g>
<g id="c2b-buf-back-after" filter="url(#sh)">
<rect class="o" x="1221" y="808" width="16" height="13"/><rect class="o" x="1237" y="808" width="16" height="13"/><rect class="o" x="1253" y="808" width="16" height="13"/><rect class="o" x="1269" y="808" width="16" height="13"/><rect class="y" x="1285" y="808" width="16" height="13"/><rect class="d" x="1301" y="808" width="16" height="13"/><rect class="d" x="1317" y="808" width="16" height="13"/><rect class="d" x="1333" y="808" width="16" height="13"/>
<text class="num" x="1229" y="817">16</text><text class="num" x="1245" y="817">17</text><text class="num" x="1261" y="817">18</text><text class="num" x="1277" y="817">19</text><text class="num" x="1293" y="817">20</text>
</g>
<g id="c2b-buf-front" filter="url(#sh)">
<rect class="g" x="973" y="768" width="16" height="13"/><rect class="g" x="989" y="768" width="16" height="13"/><rect class="g" x="1005" y="768" width="16" height="13"/><rect class="g" x="1021" y="768" width="16" height="13"/><rect class="g" x="1037" y="768" width="16" height="13"/><rect class="g" x="1053" y="768" width="16" height="13"/><rect class="g" x="1069" y="768" width="16" height="13"/><rect class="g" x="1085" y="768" width="16" height="13"/>
</g>
<g id="c2b-map" filter="url(#sh)">
<rect class="d" x="1037" y="868" width="20" height="17"/><rect class="d" x="1057" y="868" width="20" height="17"/><rect class="b" x="1077" y="868" width="20" height="17"/><rect class="b" x="1097" y="868" width="20" height="17"/><rect class="b" x="1117" y="868" width="20" height="17"/><rect class="d" x="1137" y="868" width="20" height="17"/><rect class="d" x="1157" y="868" width="20" height="17"/><rect class="d" x="1177" y="868" width="20" height="17"/>
</g>
<g id="c2b-start" filter="url(#sh)">
<rect class="f" x="786" y="900" width="44" height="12"/><rect class="f" x="830" y="900" width="43" height="12"/><rect class="f" x="873" y="900" width="48" height="12"/><rect class="f" x="921" y="900" width="52" height="12"/>
<text class="ft" x="808" y="908">Type* <tspan class="v">first</tspan></text><text class="ft" x="851.5" y="908">Type* <tspan class="v">last</tspan></text><text class="ft" x="897" y="908">Type* <tspan class="v">current</tspan></text><text class="ft" x="947" y="908">map_pointer <tspan class="v">node</tspan></text>
<rect class="lb" x="784.5" y="916" width="47.5" height="8"/><text class="il" x="786" y="922">iterator <tspan class="v">start</tspan></text>
</g>
<g id="c2b-mapptr" filter="url(#sh)">
<rect class="lb" x="990.5" y="902" width="50.7" height="8"/><text class="il" x="992" y="908">map_pointer <tspan class="v">map</tspan></text>
</g>
<g id="c2b-finish" filter="url(#sh)">
<rect class="f" x="1166" y="936" width="44" height="12"/><rect class="f" x="1210" y="936" width="43" height="12"/><rect class="f" x="1253" y="936" width="48" height="12"/><rect class="f" x="1301" y="936" width="53" height="12"/>
<text class="ft" x="1188" y="944">Type* <tspan class="v">first</tspan></text><text class="ft" x="1231.5" y="944">Type* <tspan class="v">last</tspan></text><text class="ft" x="1277" y="944">Type* <tspan class="v">current</tspan></text><text class="ft" x="1327.5" y="944">map_pointer <tspan class="v">node</tspan></text>
<rect class="lb" x="1164.5" y="952" width="50.7" height="8"/><text class="il" x="1166" y="958">iterator <tspan class="v">finish</tspan></text>
</g>
</svg>
